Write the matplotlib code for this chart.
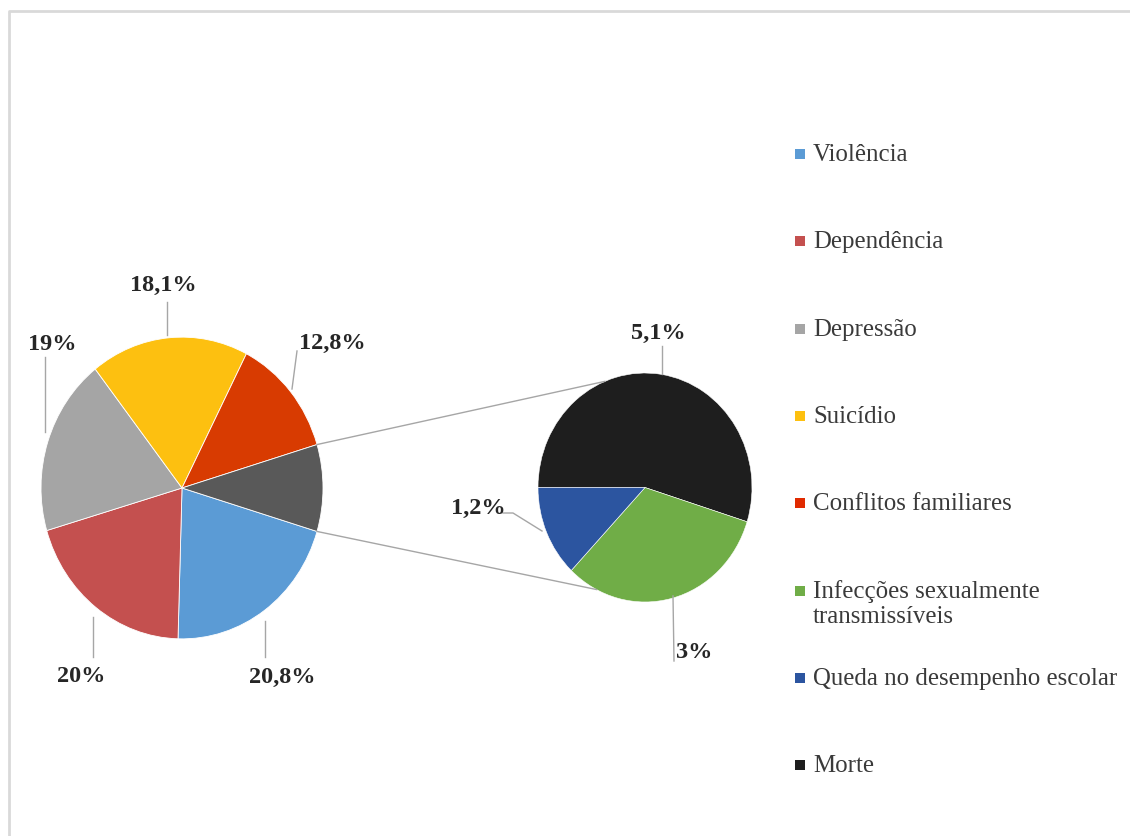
import matplotlib.pyplot as plt
from matplotlib.patches import Rectangle
import numpy as np

# Main pie data (percent)
main_labels = ['Violência', 'Dependência', 'Depressão', 'Suicídio', 'Conflitos familiares']
main_values = [20.8, 20.0, 19.0, 18.1, 12.8]
main_texts = ['20,8%', '20%', '19%', '18,1%', '12,8%']

# Secondary pie data (percent), it splits the "other" slice of the main pie
sub_labels = ['Morte', 'Infecções sexualmente\ntransmissíveis', 'Queda no desempenho escolar']
sub_values = [5.1, 3.0, 1.2]
sub_texts = ['5,1%', '3%', '1,2%']

main_colors = ['#5b9bd5', '#c4504f', '#a5a5a5', '#fdc010', '#d83b01']
other_color = '#595959'
sub_colors = ['#1e1e1e', '#70ad47', '#2c55a0']

legend_order = ['Violência', 'Dependência', 'Depressão', 'Suicídio', 'Conflitos familiares',
                'Infecções sexualmente\ntransmissíveis', 'Queda no desempenho escolar', 'Morte']
legend_colors = ['#5b9bd5', '#c4504f', '#a5a5a5', '#fdc010', '#e02a00',
                 '#70ad47', '#2c55a0', '#1e1e1e']

W, H = 1130, 837
SY = 1.07  # the original picture is slightly stretched vertically

fig = plt.figure(figsize=(W / 100, H / 100), dpi=100)
ax = fig.add_axes([0, 0, 1, 1])


def P(x, y):
    # image pixel coords -> data coords
    return x, (H - y) / SY


other = sum(sub_values)
main_center = P(182, 489)
main_r = 141
sub_center = P(645, 488.5)
sub_r = 107

start = -other / 2 * 3.6
ax.pie(main_values + [other], colors=main_colors + [other_color], startangle=start,
       counterclock=False, center=main_center, radius=main_r, frame=True,
       wedgeprops=dict(edgecolor='white', linewidth=0.6))
ax.pie(sub_values, colors=sub_colors, startangle=180, counterclock=False,
       center=sub_center, radius=sub_r, frame=True,
       wedgeprops=dict(edgecolor='white', linewidth=0.4))

# connector lines between the pies
line_kw = dict(color='#a6a6a6', linewidth=1.0, zorder=1)
for a_main, a_sub in [(-start, 112), (start, -117)]:
    x0 = main_center[0] + main_r * np.cos(np.radians(a_main))
    y0 = main_center[1] + main_r * np.sin(np.radians(a_main))
    x1 = sub_center[0] + sub_r * np.cos(np.radians(a_sub))
    y1 = sub_center[1] + sub_r * np.sin(np.radians(a_sub))
    ax.plot([x0, x1], [y0, y1], **line_kw)

# data labels with leader lines (image coords)
label_pos = {
    '20,8%': ((282, 677), [(265, 622), (265, 658)]),
    '20%': ((81, 677), [(93, 618), (93, 658)]),
    '19%': ((52, 344), [(45, 433), (45, 358)]),
    '18,1%': ((163, 285), [(167, 336), (167, 303)]),
    '12,8%': ((332, 343), [(292, 390), (297, 352)]),
    '5,1%': ((658, 333), [(662, 375), (662, 347)]),
    '3%': ((694, 653), [(673, 597), (674, 662)]),
    '1,2%': ((478, 508), [(542, 532), (513, 514), (503, 514)]),
}
font = ['Liberation Serif', 'DejaVu Serif']
for txt in main_texts + sub_texts:
    (tx, ty), pts = label_pos[txt]
    xs, ys = zip(*[P(px, py) for px, py in pts])
    ax.plot(xs, ys, color='#a6a6a6', linewidth=1.0, zorder=1)
    ax.text(*P(tx, ty), txt, ha='center', va='center', fontsize=17.5,
            fontweight='bold', family=font, color='#262626')

# legend
for i, (lab, col) in enumerate(zip(legend_order, legend_colors)):
    y = 155 + i * 87.3
    x0, y0 = P(795, y + 5)
    ax.add_patch(Rectangle((x0, y0), 10, 10 / SY, facecolor=col, edgecolor='none'))
    ax.text(*P(813, y - 11), lab, ha='left', va='top', fontsize=17.9,
            family=font, color='#3a3a3a', linespacing=1.15)

# light frame of the chart area
ax.plot(*zip(P(9, H + 5), P(9, 12), P(W + 5, 12)), color='#d9d9d9', linewidth=2)

ax.set_xlim(0, W)
ax.set_ylim(0, H / SY)
ax.set_aspect('auto')
ax.axis('off')

fig.savefig('out.png', dpi=100, facecolor='white')
